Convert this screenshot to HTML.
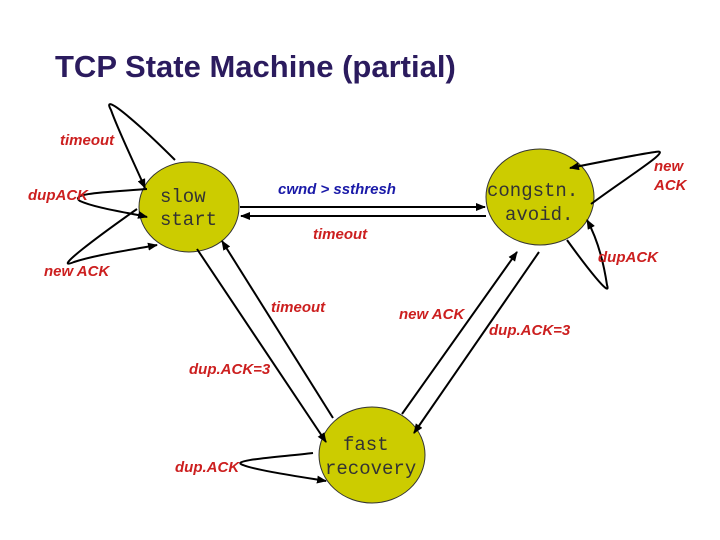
<!DOCTYPE html>
<html><head><meta charset="utf-8"><style>
body{margin:0;background:#fff;}
svg{display:block;}
.l{font-family:"Liberation Sans",sans-serif;font-style:italic;font-weight:bold;fill:#cc1f1f;font-size:15px;}
.m{font-family:"Liberation Mono",monospace;font-size:19px;fill:#333;}
</style></head><body>
<svg width="720" height="540" viewBox="0 0 720 540">
<defs><marker id="a" markerWidth="10" markerHeight="8" refX="9" refY="4" orient="auto" markerUnits="userSpaceOnUse"><path d="M0,0 L10,4 L0,8 z" fill="#000"/></marker></defs>
<text x="55" y="77" font-family="Liberation Sans,sans-serif" font-weight="bold" font-size="31" fill="#2b1b5e">TCP State Machine (partial)</text>
<g fill="#cccc00" stroke="#333" stroke-width="1">
<ellipse cx="189" cy="207" rx="50" ry="45"/>
<ellipse cx="540" cy="197" rx="54" ry="48"/>
<ellipse cx="372" cy="455" rx="53" ry="48"/>
</g>
<g stroke="#000" stroke-width="2" fill="none" marker-end="url(#a)">
<line x1="240" y1="207" x2="485" y2="207"/>
<line x1="486" y1="216" x2="241" y2="216"/>
<line x1="197" y1="249" x2="326" y2="442"/>
<line x1="333" y1="418" x2="222" y2="241"/>
<line x1="539" y1="252" x2="414" y2="433"/>
<line x1="402" y1="414" x2="517" y2="252"/>
<path d="M175,160 C140,125 100,90 111,110 C118,130 135,165 145,188"/>
<path d="M147,189 C110,192 68,193 80,201 C95,208 130,213 147,217"/>
<path d="M137,209 C100,235 50,272 74,262 C95,255 130,250 157,245"/>
<path d="M591,204 C630,175 675,148 655,152 C640,154 610,160 570,168"/>
<path d="M567,240 C585,265 612,300 607,285 C604,265 598,240 587,220"/>
<path d="M313,453 C280,457 228,460 243,465 C255,470 295,476 326,481"/>
</g>
<text class="l" x="60" y="145">timeout</text>
<text class="l" x="28" y="200" font-size="12">dupACK</text>
<text class="l" x="44" y="276">new ACK</text>
<text class="l" x="278" y="194" style="fill:#1a1aa8">cwnd &gt; ssthresh</text>
<text class="l" x="313" y="239">timeout</text>
<text class="l" x="654" y="171">new</text>
<text class="l" x="654" y="190" font-style="normal">ACK</text>
<text class="l" x="598" y="262" font-size="13">dupACK</text>
<text class="l" x="271" y="312">timeout</text>
<text class="l" x="399" y="319">new ACK</text>
<text class="l" x="489" y="335">dup.ACK=3</text>
<text class="l" x="189" y="374">dup.ACK=3</text>
<text class="l" x="175" y="472">dup.ACK</text>
<text class="m" x="160" y="202">slow</text>
<text class="m" x="160" y="225">start</text>
<text class="m" x="487" y="196">congstn.</text>
<text class="m" x="505" y="220">avoid.</text>
<text class="m" x="343" y="450">fast</text>
<text class="m" x="325" y="474">recovery</text>
</svg>
</body></html>
